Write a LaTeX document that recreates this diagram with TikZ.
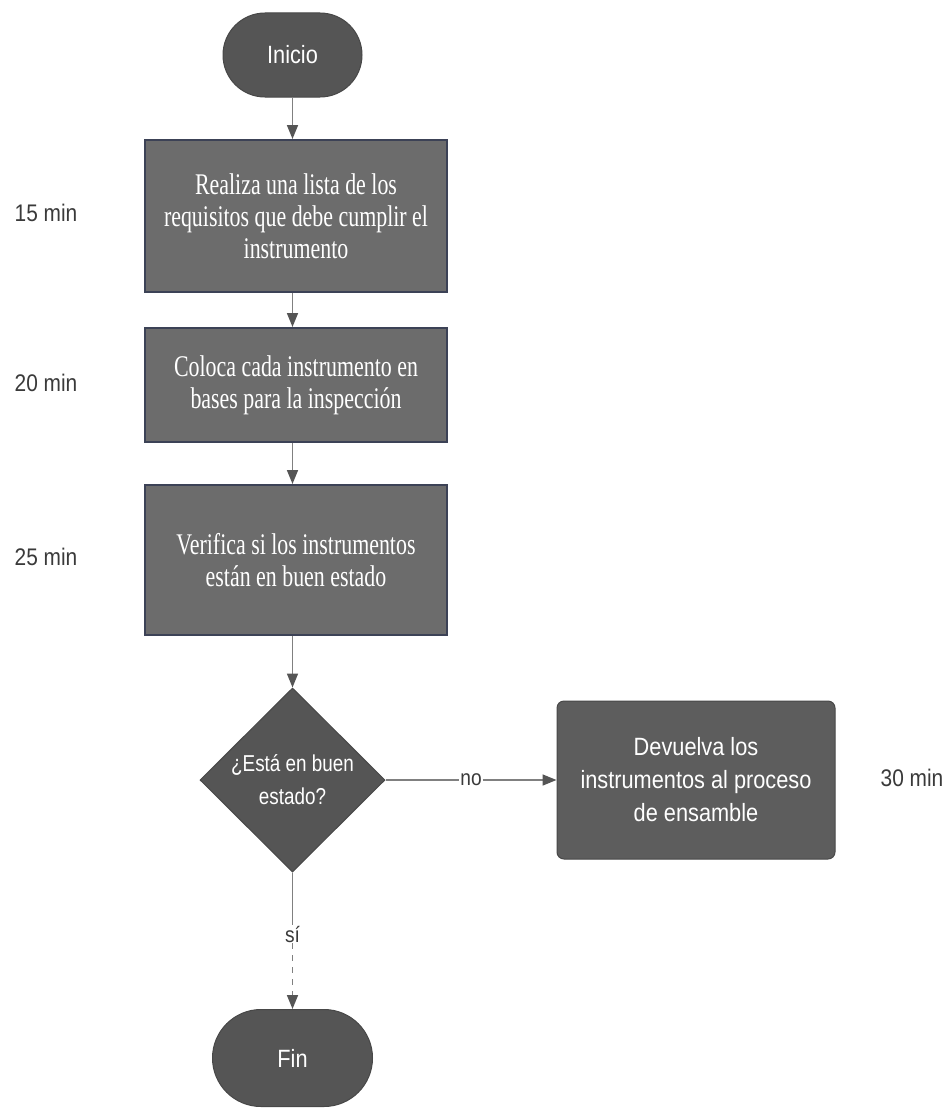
\documentclass[tikz,border=0pt]{standalone}
\usepackage{fontspec}
\setmainfont{Liberation Serif}
\setsansfont{Liberation Sans}
\newfontfamily\boxserif{Liberation Serif}[FakeStretch=0.73]
\newfontfamily\narrowsans{Liberation Sans}[FakeStretch=0.87]
\newfontfamily\tightsans{Liberation Sans}[FakeStretch=0.82]
\usetikzlibrary{shapes.geometric,shapes.misc,arrows.meta}

\definecolor{termgray}{HTML}{555555}
\definecolor{procgray}{HTML}{6C6C6C}
\definecolor{procedge}{HTML}{3C4256}
\definecolor{linegray}{HTML}{808080}
\definecolor{tipgray}{HTML}{555555}
\definecolor{labelgray}{HTML}{3A3A3A}

\tikzset{
  terminal/.style={rounded rectangle, fill=termgray, draw=termgray!85!black,
    line width=1pt, inner sep=0pt, text=white,
    font=\narrowsans\fontsize{25}{30}\selectfont},
  process/.style={rectangle, fill=procgray, draw=procedge, line width=2pt,
    minimum width=302pt, inner sep=0pt, align=center,
    text=white, font=\boxserif\fontsize{30}{32}\selectfont},
  decision/.style={diamond, fill=termgray, draw=termgray!85!black, line width=1pt,
    minimum width=185pt, minimum height=184pt, inner sep=0pt,
    align=center, text=white, font=\tightsans\fontsize{23}{33}\selectfont},
  action/.style={rectangle, rounded corners=7pt, fill=termgray!95!white,
    draw=termgray!85!black, line width=1pt, minimum width=278pt,
    minimum height=158pt, inner sep=0pt, align=center,
    text=white, font=\narrowsans\fontsize{25}{33}\selectfont},
  timelabel/.style={text=labelgray, font=\narrowsans\fontsize{24}{26}\selectfont},
  edgelabel/.style={fill=white, inner sep=1pt, text=labelgray,
    font=\narrowsans\fontsize{22}{24}\selectfont},
  link/.style={draw=linegray, line width=1.6pt},
  flow/.style={link, -{Triangle[length=14pt,width=11pt,color=tipgray]}},
}

\begin{document}
\begin{tikzpicture}[x=1pt,y=-1pt]
  \useasboundingbox[fill=white] (0,0) rectangle (952,1108);

  % flow steps
  \node[terminal, minimum width=139pt, minimum height=84pt] (ini) at (292.5,55) {Inicio};
  \node[process, minimum height=152pt] (b1) at (296,216)
    {Realiza una lista de los\\ requisitos que debe cumplir el\\ instrumento};
  \node[process, minimum height=114pt] (b2) at (296,385)
    {Coloca cada instrumento en\\ bases para la inspección};
  \node[process, minimum height=150pt] (b3) at (296,560)
    {Verifica si los instrumentos\\ están en buen estado};
  \node[decision] (dec) at (292.5,780) {¿Está en buen\\ estado?};
  \node[action] (ret) at (696,780)
    {Devuelva los\\ instrumentos al proceso\\ de ensamble};
  \node[terminal, minimum width=160pt, minimum height=97pt] (fin) at (292.5,1058) {Fin};

  % durations
  \node[timelabel] (t1) at (46,213) {15 min};
  \node[timelabel] (t2) at (46,383) {20 min};
  \node[timelabel] (t3) at (46,557) {25 min};
  \node[timelabel] (t4) at (912,778) {30 min};

  % connectors
  \draw[flow] (ini.south) -- (ini.south |- b1.north);
  \draw[flow] (b1.south -| ini.south) -- (ini.south |- b2.north);
  \draw[flow] (b2.south -| ini.south) -- (ini.south |- b3.north);
  \draw[flow] (b3.south -| ini.south) -- (dec.north);

  \node[edgelabel] (no) at (471,780) {no};
  \draw[link] (dec.east) -- (no.west);
  \draw[flow] (no.east) -- (ret.west);

  \node[edgelabel] (si) at (292.5,934) {sí};
  \draw[link] (dec.south) -- (si.north);
  \draw[flow, dash pattern=on 6pt off 6pt] (si.south) -- (fin.north);
\end{tikzpicture}
\end{document}
